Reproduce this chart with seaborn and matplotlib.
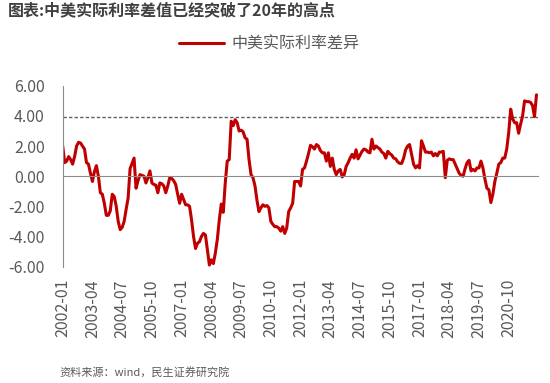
import matplotlib
matplotlib.use("Agg")
import matplotlib.pyplot as plt
import numpy as np
import pandas as pd
import seaborn as sns

# ---------------- data ----------------
title = "图表:中美实际利率差值已经突破了20年的高点"
series_name = "中美实际利率差异"
source_note = "资料来源：wind，民生证券研究院"

months = pd.date_range("2002-01-01", periods=240, freq="MS").strftime("%Y-%m").tolist()

values = [
    2.0, 0.9, 1.0, 1.3, 1.1, 0.8, 1.3, 2.0, 2.25, 2.2,
    2.0, 1.8, 0.9, 0.8, 0.2, -0.35, 0.3, 0.7, 0.0, -1.1,
    -1.2, -1.8, -2.6, -2.6, -2.3, -1.2, -1.35, -2.0, -3.0, -3.55,
    -3.4, -3.0, -2.2, -1.45, 0.5, 0.85, 1.2, -0.8, -0.3, 0.1,
    0.05, 0.0, -0.45, -0.1, 0.35, -0.45, -0.55, -0.6, -1.1, -0.45,
    -0.5, -0.65, -1.1, -0.65, -0.1, -0.15, -0.3, -0.55, -1.2, -1.8,
    -1.2, -1.55, -1.9, -1.9, -2.0, -2.9, -4.0, -4.8, -4.45, -4.35,
    -4.0, -3.8, -3.9, -4.9, -5.9, -5.55, -5.8, -5.1, -4.2, -2.9,
    -1.85, -2.4, -0.45, 1.0, 1.1, 3.65, 3.35, 3.75, 3.55, 3.0,
    3.05, 2.95, 2.55, 2.45, 1.1, 0.1, -0.1, -0.65, -1.6, -2.35,
    -2.1, -1.9, -2.0, -1.95, -2.1, -3.0, -3.2, -3.35, -3.35, -3.45,
    -3.65, -3.35, -3.8, -3.45, -2.35, -2.1, -1.8, -0.35, -0.35, -0.35,
    -0.65, 0.45, 0.55, 1.0, 1.5, 2.05, 1.95, 1.8, 2.1, 2.0,
    1.7, 1.55, 1.55, 1.0, 1.55, 0.65, 1.2, 0.45, 0.1, 0.35,
    0.45, -0.05, 0.1, 0.65, 0.9, 1.2, 1.45, 1.2, 1.75, 1.15,
    1.4, 1.65, 1.8, 1.75, 1.6, 1.55, 2.45, 1.8, 2.0, 1.9,
    1.8, 1.6, 1.5, 1.2, 1.65, 1.5, 1.4, 1.2, 1.15, 0.95,
    0.85, 0.85, 1.2, 1.75, 2.0, 2.1, 1.45, 0.8, 0.55, 0.7,
    0.55, 2.35, 2.0, 1.6, 1.6, 1.55, 1.6, 1.35, 1.5, 1.35,
    1.6, 1.6, 1.65, -0.1, 1.05, 1.15, 1.1, 1.1, 0.8, 0.5,
    0.2, 0.05, 0.0, 0.5, 0.9, 1.05, 0.35, 0.45, 0.35, 0.55,
    0.55, 1.0, 0.55, -0.2, -0.8, -0.9, -1.75, -1.2, -0.35, 0.2,
    0.8, 0.9, 1.2, 1.2, 1.8, 2.9, 4.45, 3.8, 3.55, 3.55,
    2.85, 3.45, 4.0, 5.0, 4.95, 4.95, 4.9, 4.7, 3.95, 5.4,
]

reference_level = 3.9
y_ticks = [-6, -4, -2, 0, 2, 4, 6]
label_step = 15

# ---------------- style ----------------
sns.set_style("white")
plt.rcParams["font.family"] = ["Noto Sans CJK SC", "DejaVu Sans"]

RED = "#C00000"
GRAY_TXT = "#595959"
GRAY_AX = "#8C8C8C"

df = pd.DataFrame({"idx": np.arange(len(values)), "month": months, "value": values})

fig = plt.figure(figsize=(5.5, 3.83), dpi=100)
ax = fig.add_axes([0.114, 0.304, 0.865, 0.472])

sns.lineplot(data=df, x="idx", y="value", ax=ax, color=RED, linewidth=2.2,
             legend=False)
ax.axhline(reference_level, color="#606060", linewidth=1.0,
           linestyle=(0, (2.4, 1.6)), zorder=1)

n = len(values)
ax.set_xlim(0, n)
ax.set_ylim(min(y_ticks), max(y_ticks))
ax.set_xlabel("")
ax.set_ylabel("")

# y axis
ax.set_yticks(y_ticks)
ax.set_yticklabels([f"{v:.2f}" for v in y_ticks])
ax.tick_params(axis="y", direction="in", length=5, width=1, color=GRAY_AX,
               labelsize=11.5, labelcolor=GRAY_TXT, pad=13)

# zero line axis with tick marks
for s in ("top", "right"):
    ax.spines[s].set_visible(False)
ax.spines["left"].set_color(GRAY_AX)
ax.spines["bottom"].set_color(GRAY_AX)
ax.spines["bottom"].set_position(("data", 0))
ax.set_xticks(np.arange(0, n + 1, label_step))
ax.tick_params(axis="x", direction="in", length=5, width=1, color=GRAY_AX,
               labelbottom=False)

# category labels at the bottom
sec = ax.secondary_xaxis(0)
label_pos = np.arange(0, n, label_step)
sec.set_xticks(label_pos)
sec.set_xticklabels([months[i] for i in label_pos], rotation=90)
sec.tick_params(axis="x", length=0, labelsize=11.5, labelcolor=GRAY_TXT, pad=9)
sec.spines["bottom"].set_visible(False)

# legend
handle = ax.lines[0]
fig.legend([handle], [series_name], loc="center", bbox_to_anchor=(0.49, 0.885),
           frameon=False, fontsize=11.5, handlelength=2.8, handletextpad=0.5,
           labelcolor=GRAY_TXT)

fig.text(0.014, 0.974, title, ha="left", va="center", fontsize=11.5,
         fontweight="bold", color="#404040")
fig.text(0.108, 0.027, source_note, ha="left", va="center", fontsize=8,
         color=GRAY_TXT)

fig.savefig("out.png", dpi=100)
